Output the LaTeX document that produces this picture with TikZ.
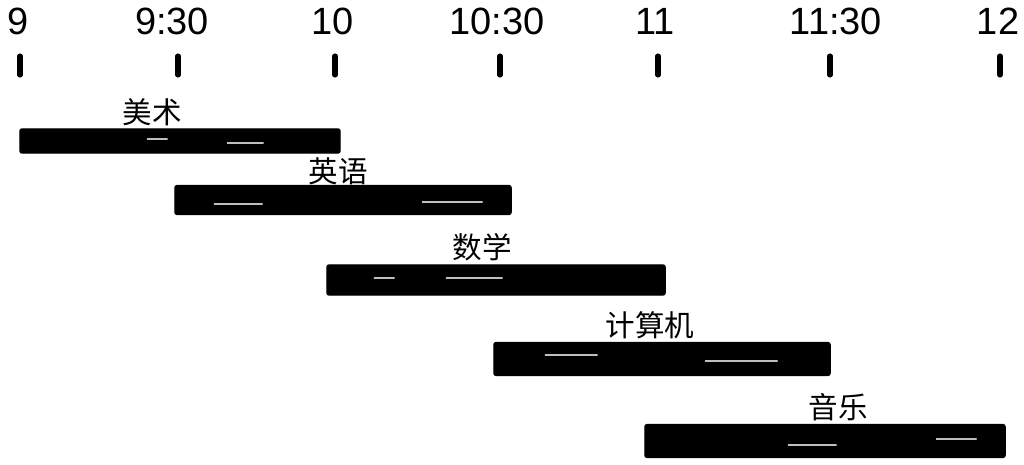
\documentclass[tikz,border=0pt]{standalone}
\usepackage{fontspec}
\setmainfont{Liberation Sans}
\newfontfamily\cjk{Noto Sans CJK SC}
\begin{document}
\begin{tikzpicture}[x=0.025cm,y=-0.025cm,
  timelab/.style={font=\fontsize{27}{27}\selectfont, inner sep=0pt, anchor=center},
  tickmark/.style={line width=3.6pt, line cap=round},
  barnode/.style={fill=black, draw=black, line width=1pt, rounded corners=1.5pt, inner sep=0pt},
  lab/.style={font=\cjk\fontsize{21}{21}\selectfont, inner sep=0pt},
  streak/.style={white, opacity=0.75, line width=0.8pt, line cap=round}]
\useasboundingbox (0,0) rectangle (1024,465);
% time axis
\foreach \x/\t/\tx/\n in {18/9/20/a, 172/9:30/178/b, 333/10/335/c, 497/10:30/500/d, 655/11/658/e, 836/11:30/830/f, 998/12/1000/g}{
  \node[timelab] (t\n) at (\x,21) {\t};
  \coordinate (s\n) at (\tx,56);
  \coordinate (e\n) at (\tx,75);
  \draw[tickmark] (s\n) -- (e\n);
}
% bars
\node[barnode, minimum width=8cm, minimum height=0.6cm] (b1) at (180,141) {};
\node[lab] (l1) at (152,112) {美术};
\node[barnode, minimum width=8.4cm, minimum height=0.72cm] (b2) at (343,200) {};
\node[lab] (l2) at (338,171) {英语};
\node[barnode, minimum width=8.45cm, minimum height=0.75cm] (b3) at (496,280) {};
\node[lab] (l3) at (482,247) {数学};
\node[barnode, minimum width=8.4cm, minimum height=0.82cm] (b4) at (662,359) {};
\node[lab] (l4) at (650,325) {计算机};
\node[barnode, minimum width=9cm, minimum height=0.82cm] (b5) at (825,441) {};
\node[lab] (l5) at (838,407) {音乐};
% texture streaks
\draw[streak] ([xshift=3.2cm,yshift=0.05cm]b1.west) -- ++(0.5cm,0);
\draw[streak] ([xshift=5.2cm,yshift=-0.05cm]b1.west) -- ++(0.9cm,0);
\draw[streak] ([xshift=1.0cm,yshift=-0.1cm]b2.west) -- ++(1.2cm,0);
\draw[streak] ([xshift=6.2cm,yshift=-0.05cm]b2.west) -- ++(1.5cm,0);
\draw[streak] ([xshift=1.2cm,yshift=0.05cm]b3.west) -- ++(0.5cm,0);
\draw[streak] ([xshift=3.0cm,yshift=0.05cm]b3.west) -- ++(1.4cm,0);
\draw[streak] ([xshift=1.3cm,yshift=0.1cm]b4.west) -- ++(1.3cm,0);
\draw[streak] ([xshift=5.3cm,yshift=-0.05cm]b4.west) -- ++(1.8cm,0);
\draw[streak] ([xshift=3.6cm,yshift=-0.1cm]b5.west) -- ++(1.2cm,0);
\draw[streak] ([xshift=7.3cm,yshift=0.05cm]b5.west) -- ++(1.0cm,0);
\end{tikzpicture}
\end{document}
